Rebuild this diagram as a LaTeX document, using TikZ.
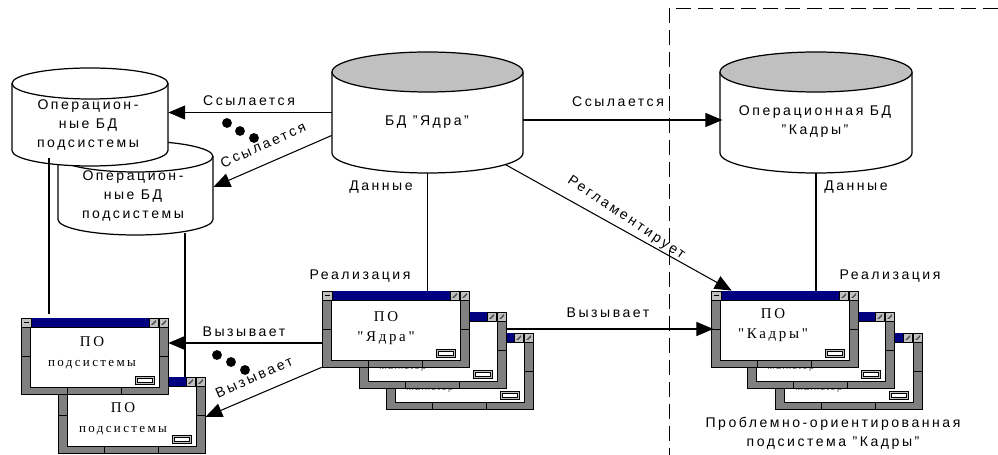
\documentclass[tikz,border=0pt]{standalone}
\usepackage{fontspec}
\setmainfont[LetterSpace=18]{Liberation Sans}
\newfontfamily\winfont[LetterSpace=18]{Liberation Serif}
\usetikzlibrary{arrows.meta,calc,fit}

% window: name, left, top
\newcommand{\appwin}[3]{
\begin{scope}[shift={(#2,#3)}]
\node[fit={(0,0)(147,76)}, inner sep=0pt, draw=black, fill=wingray] (#1) {};
\draw[fill=white] (9,9) rectangle (138,69);
\fill[titleblue] (9,0) rectangle (128,9);
\draw[fill=btngray] (0,0) rectangle (10,9);
\fill (2.5,4) rectangle (7.5,5.2);
\foreach \b in {128,138}{
\draw[fill=btngray] (\b,0) rectangle (\b+9,9);
\fill[black!70] (\b+2,7) -- (\b+7,2) -- (\b+7,4) -- (\b+4,7) -- cycle;}
\draw (0,38)--(9,38) (138,38)--(147,38) (46,69)--(46,76) (100,69)--(100,76);
\draw[fill=btngray] (114,58) rectangle (133,66);
\draw[fill=white] (116,60) rectangle (131,64);
\end{scope}}
% back window with its caption under the front one
\newcommand{\backwin}[3]{
\appwin{#1}{#2}{#3}
\node[wintag] (#1Tag) at ($(#1.north west)+(44,56)$) {Mainstop};}
% cylinder: fill, name, left, top, width, side height, y radius
\newcommand{\dbcyl}[7]{
\begin{scope}[shift={(#3,#4)}]
\node[fit={(0,0)(#5,#6+2*#7)}, inner sep=0pt] (#2) {};
\draw[fill=white, line width=.7pt] (0,#7) -- (0,#6+#7) arc[start angle=180, end angle=0, x radius=#5/2, y radius=#7] -- (#5,#7);
\draw[fill=#1, line width=.7pt] ({#5/2},#7) ellipse [x radius=#5/2, y radius=#7];
\end{scope}}

\begin{document}
\begin{tikzpicture}[x=.02cm, y=-.02cm, font=\fontsize{8}{10.8}\selectfont,
  link/.style={line width=.6pt},
  refer/.style={link, -{Triangle[length=9.6pt,width=8pt]}},
  lbl/.style={inner sep=0pt, align=center},
  wintext/.style={lbl, font=\winfont\fontsize{8.5}{11.4}\selectfont},
  wintag/.style={inner sep=0pt, text=black!70, font=\fontsize{5}{6}\selectfont},
  dot/.style={circle, fill=black, inner sep=0pt, minimum size=5.6pt}]
\definecolor{wingray}{HTML}{808080}
\definecolor{btngray}{HTML}{C0C0C0}
\definecolor{titleblue}{HTML}{000080}
\useasboundingbox (0,0) rectangle (998,455);

% subsystem boundary
\draw[line width=.5pt, dash pattern=on 8.5pt off 4pt] (998,8) -- (669,8) -- (669,455);

% databases
\dbcyl{white}{subDbB}{58}{141}{155}{63}{15.5}
\dbcyl{white}{subDbA}{12}{68}{156}{67}{15.5}
\dbcyl{btngray}{coreDb}{332}{52}{191}{81}{20}
\dbcyl{btngray}{kadryDb}{720}{52}{192}{81}{20}
\node[lbl] (subDbTextB) at (133,196) {Операцион-\\ные БД\\подсистемы};
\node[lbl] (subDbTextA) at (88,125) {Операцион-\\ные БД\\подсистемы};
\node[lbl] (coreDbText) at (427,122) {БД "Ядра"};
\node[lbl] (kadryDbText) at (815,122) {Операционная БД\\"Кадры"};

% windows, back to front
\appwin{subWinB}{58}{377}
\appwin{subWinA}{21}{318}
\backwin{coreWinC}{386}{333}
\backwin{coreWinB}{359}{312}
\appwin{coreWin}{322}{291}
\backwin{kadryWinC}{775}{333}
\backwin{kadryWinB}{747}{312}
\appwin{kadryWin}{711}{291}
\node[wintext] (subWinTextB) at (123,419) {ПО\\{\fontsize{7.4}{11.4}\selectfont подсистемы}};
\node[wintext] (subWinTextA) at (92,353) {ПО\\{\fontsize{7.4}{11.4}\selectfont подсистемы}};
\node[wintext] (coreWinText) at (386,328) {ПО\\"Ядра"};
\node[wintext] (kadryWinText) at (773,325) {ПО\\"Кадры"};

% connectors
\draw[link] ($(subDbA.south)+(-41,-8)$) -- ($(subWinA.north)+(-45.5,-4)$);
\draw[link] ($(subDbB.south)+(49.5,-2)$) -- ($(subWinB.north)+(53.5,0)$);
\draw[link] (coreDb.south) -- (coreDb.south |- coreWin.north);
\draw[link] (kadryDb.south) -- (kadryDb.south |- kadryWin.north);
\draw[refer] (coreDb.west) -- (coreDb.west -| subDbA.east);
\draw[refer] ($(coreDb.west)+(0,23)$) -- ($(subDbB.east)+(0,-1)$);
\draw[refer, shorten >=-1.5pt] ($(coreDb.east)+(0,7.5)$) -- ($(kadryDb.west)+(0,7.5)$);
\draw[refer] ($(coreDb.south)+(77.5,-9)$) -- ($(kadryWin.north west)+(21,0)$);
\draw[refer] ($(coreWin.west)+(0,14)$) -- ($(coreWin.west -| subWinA.east)+(0,14)$);
\draw[refer] (coreWin.south west) -- ($(subWinB.east)+(0,2)$);
\draw[refer, shorten >=-1.5pt] (coreWin.east -| coreWinB.east) -- (kadryWin.west);

% labels
\node[lbl] (refA) at (249,101) {Ссылается};
\node[lbl, rotate=24] (refB) at (263,145) {Ссылается};
\node[lbl] (refC) at (618,102) {Ссылается};
\node[lbl] (dataCore) at (381,187) {Данные};
\node[lbl] (dataKadry) at (856,187) {Данные};
\node[lbl] (implCore) at (360,276) {Реализация};
\node[lbl] (implKadry) at (890,276) {Реализация};
\node[lbl, rotate=-34] (regl) at (626,218) {Регламентирует};
\node[lbl] (callA) at (244,332) {Вызывает};
\node[lbl, rotate=24] (callB) at (254,377) {Вызывает};
\node[lbl] (callC) at (608,313) {Вызывает};
\node[lbl] (kadryCaption) at (833,433) {Проблемно-ориентированная\\подсистема "Кадры"};

% ellipsis dots
\foreach \n/\p in {a/{227,123},b/{240,131},c/{254,138},d/{217,355},e/{231,362},f/{245,370}}{
\node[dot] (dot\n) at (\p) {};}
\end{tikzpicture}
\end{document}
